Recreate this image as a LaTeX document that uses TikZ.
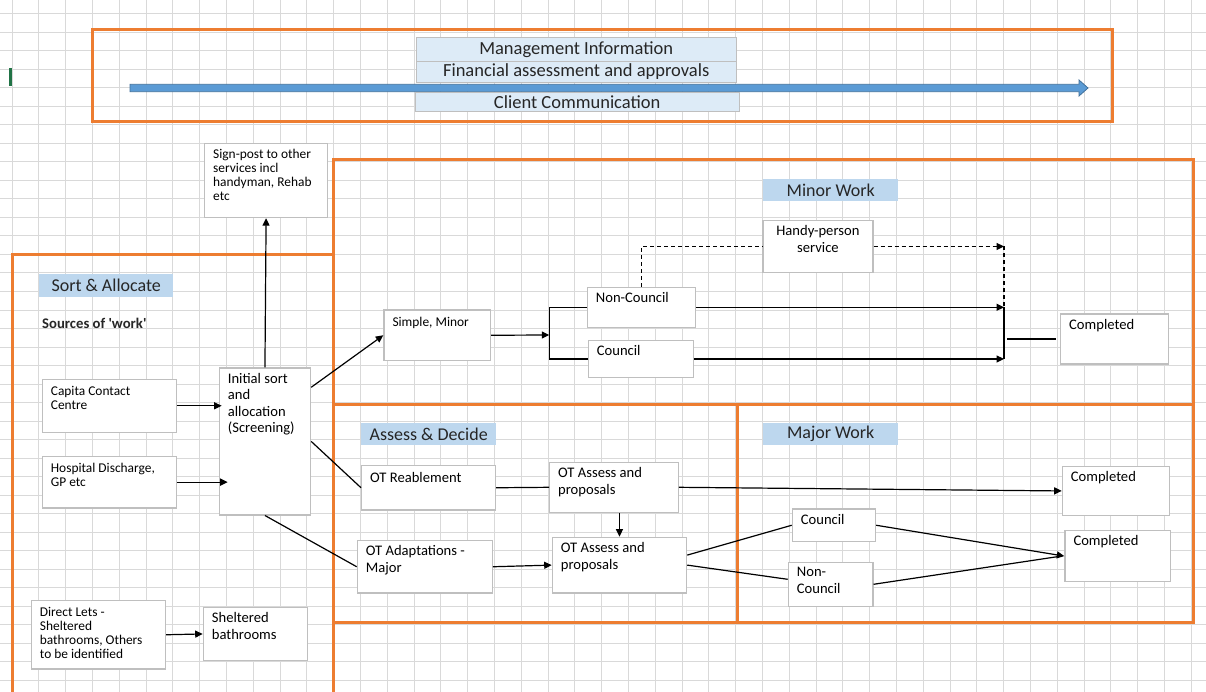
\documentclass[tikz,border=0pt]{standalone}
\usepackage{fontspec}
\setmainfont{Carlito}
\usetikzlibrary{shapes,arrows.meta,positioning}

\definecolor{zoneorange}{HTML}{ED7D31}
\definecolor{gridgray}{HTML}{D9D9D9}
\definecolor{cellgray}{HTML}{BFBFBF}
\definecolor{tagblue}{HTML}{BDD7EE}
\definecolor{bandblue}{HTML}{DDEBF7}
\definecolor{flowblue}{HTML}{5B9BD5}
\definecolor{flowedge}{HTML}{41719C}
\definecolor{textdark}{HTML}{262626}
\definecolor{xlgreen}{HTML}{217346}

\newcommand{\cellsmall}{\fontsize{13.4}{14}\selectfont}
\newcommand{\celllarge}{\fontsize{14.6}{16.5}\selectfont}

\begin{document}
\begin{tikzpicture}[x=1pt, y=-1pt,
    block/.style={rectangle, draw=cellgray, fill=white, line width=1.2pt, anchor=north west, inner sep=0pt},
    txt/.style={anchor=north west, align=left, inner sep=0pt, xshift=9pt, yshift=-5.5pt, font=\celllarge},
    txtsmall/.style={txt, font=\cellsmall, yshift=-2pt},
    tag/.style={rectangle, fill=tagblue, anchor=north west, inner sep=0pt, text=textdark, font=\fontsize{18}{20}\selectfont},
    band/.style={rectangle, draw=cellgray, fill=bandblue, anchor=north west, inner sep=0pt, text=textdark, font=\fontsize{18.5}{20}\selectfont},
    zone/.style={draw=zoneorange, line width=3pt},
    arrow/.style={-{Triangle[length=7.5pt, width=7pt]}, line width=1.2pt},
    link/.style={line width=1.2pt},
    hint/.style={dash pattern=on 4pt off 3pt}
]

\useasboundingbox (0,0) rectangle (1206,692);
\fill[white] (0,0) rectangle (1206,692);

% spreadsheet grid
\foreach \gx in {0,...,44} \draw[gridgray, line width=1pt] ({12+26.8*\gx},0) -- ({12+26.8*\gx},692);
\foreach \gy in {0,...,36} \draw[gridgray, line width=1pt] (0,{14+18.5*\gy}) -- (1206,{14+18.5*\gy});
\draw[xlgreen, line width=2.5pt] (10.5,68) -- (10.5,86);

% orange areas
\draw[zone] (92,30) rectangle (1112,122);
\draw[zone] (333,160) rectangle (1193,404);
\draw[zone] (333,404) rectangle (737,622);
\draw[zone] (737,404) rectangle (1193,622);
\draw[zone] (12,692) |- (333,255);
\draw[zone] (333,622) -- (333,692);

% top band
\node[band, minimum width=320, minimum height=24] (mgmt) at (416,37) {Management Information};
\node[band, minimum width=320, minimum height=21] (fin) at (416,61) {Financial assessment and approvals};
\filldraw[fill=flowblue, draw=flowedge, line width=0.8pt] (130,84.3) -- (1079,84.3) -- (1079,80) -- (1088,88) -- (1079,96) -- (1079,91.7) -- (130,91.7) -- cycle;
\node[band, minimum width=324, minimum height=19] (client) at (415,92) {Client Communication};

% headings
\node[tag, minimum width=134, minimum height=23] (sorthead) at (39,274) {Sort \& Allocate};
\node[tag, minimum width=135, minimum height=22] (minorhead) at (763,179) {Minor Work};
\node[tag, minimum width=135, minimum height=22] (assesshead) at (361,423) {Assess \& Decide};
\node[tag, minimum width=135, minimum height=22] (majorhead) at (763,423) {Major Work};
\node[anchor=west, inner sep=0pt, text=textdark, font=\bfseries\fontsize{14.7}{16}\selectfont] (sources) at (42,323) {Sources of \textquotesingle work\textquotesingle};

% sort & allocate
\node[block, minimum width=123, minimum height=74, label={[txtsmall, yshift=2pt]north west:Sign-post to other\\services incl\\handyman, Rehab\\etc}] (signpost) at (204,143) {};
\node[block, minimum width=134, minimum height=53, label={[txtsmall]north west:Capita Contact\\Centre}] (capita) at (41.7,378.7) {};
\node[block, minimum width=134, minimum height=51.6, label={[txtsmall]north west:Hospital Discharge,\\GP etc}] (hospital) at (41.7,455.7) {};
\node[block, minimum width=134.3, minimum height=68.3, label={[txtsmall]north west:Direct Lets -\\Sheltered\\bathrooms, Others\\to be identified}] (direct) at (30.7,600) {};
\node[block, minimum width=91.3, minimum height=147, label={[txt]north west:Initial sort\\and\\allocation\\(Screening)}] (sorting) at (218.7,367.3) {};
\node[block, minimum width=104.3, minimum height=53.3, label={[txt]north west:Sheltered\\bathrooms}] (sheltered) at (202.7,606.7) {};

% minor work
\node[block, minimum width=106.7, minimum height=50.7, label={[txtsmall]north west:Simple, Minor}] (simple) at (383.3,309.3) {};
\node[block, minimum width=108.3, minimum height=40, label={[txt]north west:Non-Council}] (noncouncil) at (586.7,286.7) {};
\node[block, minimum width=105, minimum height=36.7, label={[txt]north west:Council}] (council) at (587.7,340) {};
\node[block, minimum width=110, minimum height=51.7, label={[txt, anchor=north, align=center, xshift=-9pt]north:Handy-person\\service}] (handy) at (762.3,220) {};
\node[block, minimum width=107.7, minimum height=50, label={[txt]north west:Completed}] (done1) at (1060,313.3) {};

% assess & decide
\node[block, minimum width=134, minimum height=44.3, label={[txt, yshift=-1.5pt]north west:OT Reablement}] (reable) at (361,465) {};
\node[block, minimum width=128.7, minimum height=50, label={[txt]north west:OT Assess and\\proposals}] (assess1) at (549,461.7) {};
\node[block, minimum width=135, minimum height=52.3, label={[txt]north west:OT Adaptations -\\Major}] (adapt) at (356.7,540) {};
\node[block, minimum width=134.3, minimum height=55.6, label={[txt]north west:OT Assess and\\proposals}] (assess2) at (551.7,536.7) {};

% major work
\node[block, minimum width=83.3, minimum height=32.7, label={[txt]north west:Council}] (majcouncil) at (791.7,508.3) {};
\node[block, minimum width=84.6, minimum height=44, label={[txt]north west:Non-\\Council}] (majnoncouncil) at (787.7,561.7) {};
\node[block, minimum width=107.3, minimum height=49.3, label={[txt]north west:Completed}] (done2) at (1061.7,465.7) {};
\node[block, minimum width=105.7, minimum height=51, label={[txt]north west:Completed}] (done3) at (1064.3,530) {};

\coordinate (split) at (549.3,335);
\coordinate (merge) at (1004,339);

% connectors
\draw[arrow] (capita.east) -- ([xshift=3pt]capita.east -| sorting.west);
\draw[arrow] (hospital.east) -- ([xshift=9pt]hospital.east -| sorting.west);
\draw[arrow] (sorting.north) -- (signpost.south);
\draw[arrow] ([yshift=-20pt]sorting.north east) -- (simple.west);
\draw[link] (sorting.east) -- (reable.west);
\draw[link] (sorting.south) -- (adapt.west);
\draw[arrow] (direct.east) -- (sheltered.west);

\draw[arrow] (simple.east) -- (split);
\draw[link] (noncouncil.west) -| (split) |- (council.west);
\draw[arrow] (noncouncil.east) -- (noncouncil.east -| merge);
\draw[arrow] (council.east) -- (council.east -| merge);
\draw[line width=2pt] (noncouncil.east -| merge) -- (council.east -| merge);
\draw[link] ([xshift=3pt]merge) -- ([xshift=-4pt]merge -| done1.west);
\draw[link, hint] (noncouncil.north) |- (handy.west);
\draw[arrow, hint] (handy.east) -- (handy.east -| merge);
\draw[link, hint] (handy.east -| merge) -- (noncouncil.east -| merge);

\draw[link] (reable.east) -- (assess1.west);
\draw[arrow] (assess1.east) -- (done2.west);
\draw[arrow] (assess1.south -| assess2.north) -- (assess2.north);
\draw[arrow] (adapt.east) -- (assess2.west);
\draw[link] ([yshift=10pt]assess2.east) -- (majcouncil.west);
\draw[link] (assess2.east) -- ([yshift=5pt]majnoncouncil.west);
\draw[arrow] (majcouncil.east) -- (done3.west);
\draw[link] (majnoncouncil.east) -- ([xshift=-3pt]done3.west);

\end{tikzpicture}
\end{document}
